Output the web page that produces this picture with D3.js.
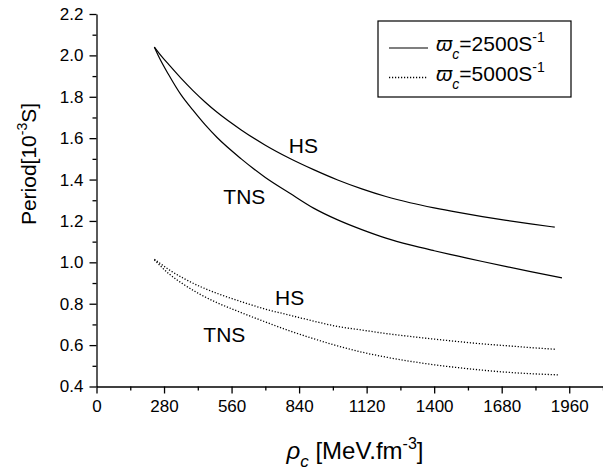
<!DOCTYPE html>
<html>
<head>
<meta charset="utf-8">
<script src="https://cdn.jsdelivr.net/npm/d3@7"></script>
<style>
  body { margin: 0; background: #fff; }
  svg text { font-family: "Liberation Sans", Arial, Helvetica, sans-serif; fill: #000; }
</style>
</head>
<body>
<svg id="chart" width="603" height="471"></svg>
<script>
// Central density rho_c [MeV fm^-3] and period [10^-3 s]
// omega_c = 2500 s^-1 (solid lines)
const hs2500Rho    = [240, 270, 300, 350, 400, 450, 500, 600, 700, 800, 900, 1000, 1100, 1200, 1300, 1400, 1500, 1600, 1700, 1800, 1900];
const hs2500Period = [2.04, 1.995, 1.955, 1.89, 1.83, 1.775, 1.725, 1.64, 1.566, 1.503, 1.448, 1.398, 1.355, 1.318, 1.288, 1.263, 1.241, 1.221, 1.203, 1.186, 1.17];
const tns2500Rho    = [240, 260, 300, 350, 400, 450, 500, 600, 700, 800, 900, 1000, 1100, 1200, 1300, 1400, 1500, 1600, 1700, 1800, 1930];
const tns2500Period = [2.04, 1.99, 1.905, 1.81, 1.735, 1.665, 1.603, 1.50, 1.41, 1.335, 1.262, 1.205, 1.158, 1.117, 1.084, 1.056, 1.030, 1.004, 0.979, 0.955, 0.925];

// omega_c = 5000 s^-1 (dotted lines)
const hs5000Rho    = [240, 300, 362, 430, 500, 600, 700, 800, 900, 1000, 1100, 1200, 1300, 1400, 1500, 1600, 1700, 1800, 1900];
const hs5000Period = [1.015, 0.965, 0.922, 0.883, 0.85, 0.81, 0.774, 0.745, 0.716, 0.69, 0.673, 0.656, 0.642, 0.629, 0.617, 0.606, 0.597, 0.588, 0.58];
const tns5000Rho    = [240, 300, 362, 430, 500, 600, 700, 800, 900, 1000, 1100, 1200, 1300, 1400, 1500, 1600, 1700, 1800, 1920];
const tns5000Period = [1.012, 0.945, 0.893, 0.845, 0.805, 0.757, 0.712, 0.669, 0.631, 0.596, 0.566, 0.542, 0.522, 0.505, 0.491, 0.479, 0.469, 0.462, 0.456];

// Axis ticks
const xMajorTicks = [0, 280, 560, 840, 1120, 1400, 1680, 1960];
const xMinorTicks = [140, 420, 700, 980, 1260, 1540, 1820, 2100];
const yMajorTicks = [0.4, 0.6, 0.8, 1.0, 1.2, 1.4, 1.6, 1.8, 2.0, 2.2];
const yMinorTicks = [0.5, 0.7, 0.9, 1.1, 1.3, 1.5, 1.7, 1.9, 2.1];

const svg = d3.select("#chart");

const x = d3.scaleLinear().domain([0, 2100]).range([96.5, 603]);
const y = d3.scaleLinear().domain([0.4, 2.2]).range([386.5, 14]);

// ---- axes ----
function styleAxis(g) {
  g.attr("font-family", null).attr("font-size", null);
  g.selectAll("path, line").attr("stroke", "#000").attr("stroke-width", 1.3);
  g.selectAll("text").attr("font-size", 17).attr("fill", "#000");
}

svg.append("g")
  .attr("transform", `translate(0,${y(0.4)})`)
  .call(d3.axisBottom(x).tickValues(xMinorTicks).tickSize(4).tickSizeOuter(0).tickFormat(""))
  .call(g => g.select(".domain").remove())
  .call(styleAxis);

svg.append("g")
  .attr("transform", `translate(0,${y(0.4)})`)
  .call(d3.axisBottom(x).tickValues(xMajorTicks).tickSize(7).tickSizeOuter(0).tickPadding(6).tickFormat(d3.format("d")))
  .call(styleAxis);

svg.append("g")
  .attr("transform", `translate(${x(0)},0)`)
  .call(d3.axisLeft(y).tickValues(yMinorTicks).tickSize(4).tickSizeOuter(0).tickFormat(""))
  .call(g => g.select(".domain").remove())
  .call(styleAxis);

svg.append("g")
  .attr("transform", `translate(${x(0)},0)`)
  .call(d3.axisLeft(y).tickValues(yMajorTicks).tickSize(7).tickSizeOuter(0).tickPadding(6).tickFormat(d3.format(".1f")))
  .call(styleAxis);

// ---- curves ----
const line = d3.line()
  .x(d => x(d[0]))
  .y(d => y(d[1]))
  .curve(d3.curveMonotoneX);

const series = [
  { rho: hs2500Rho,  period: hs2500Period,  dash: null },
  { rho: tns2500Rho, period: tns2500Period, dash: null },
  { rho: hs5000Rho,  period: hs5000Period,  dash: "1.2,1.8" },
  { rho: tns5000Rho, period: tns5000Period, dash: "1.2,1.8" }
];

series.forEach(s => {
  svg.append("path")
    .datum(d3.zip(s.rho, s.period))
    .attr("d", line)
    .attr("fill", "none")
    .attr("stroke", "#000")
    .attr("stroke-width", s.dash ? 1.3 : 1.2)
    .attr("stroke-dasharray", s.dash);
});

// ---- curve labels ----
const curveLabels = [
  { text: "HS",  rho: 797, period: 1.528 },
  { text: "TNS", rho: 526, period: 1.280 },
  { text: "HS",  rho: 740, period: 0.794 },
  { text: "TNS", rho: 443, period: 0.6165 }
];
curveLabels.forEach(l => {
  svg.append("text")
    .attr("x", x(l.rho))
    .attr("y", y(l.period))
    .attr("font-size", 21)
    .text(l.text);
});

// ---- axis titles ----
const yTitle = svg.append("text")
  .attr("transform", "translate(36,164) rotate(-90)")
  .attr("text-anchor", "middle")
  .attr("font-size", 21);
yTitle.append("tspan").text("Period[10");
yTitle.append("tspan").attr("font-size", 14).attr("dy", -9).text("-3");
yTitle.append("tspan").attr("dy", 9).text("S]");

const xTitle = svg.append("text")
  .attr("x", 355)
  .attr("y", 459)
  .attr("text-anchor", "middle")
  .attr("font-size", 24);
xTitle.append("tspan").attr("font-style", "italic").text("ρ");
xTitle.append("tspan").attr("font-style", "italic").attr("font-size", 17).attr("dy", 8).text("c");
xTitle.append("tspan").attr("dy", -8).text(" [MeV.fm");
xTitle.append("tspan").attr("font-size", 16).attr("dy", -10).text("-3");
xTitle.append("tspan").attr("dy", 10).text("]");

// ---- legend ----
const legendItems = [
  { label: "2500", dash: null },
  { label: "5000", dash: "1.2,1.8" }
];
const legend = svg.append("g");
legend.append("rect")
  .attr("x", 378).attr("y", 21)
  .attr("width", 193).attr("height", 76)
  .attr("fill", "#fff").attr("stroke", "#000").attr("stroke-width", 1.2);

legendItems.forEach((item, i) => {
  const cy = 48 + i * 29.5;
  legend.append("line")
    .attr("x1", 389).attr("x2", 428)
    .attr("y1", cy).attr("y2", cy)
    .attr("stroke", "#000")
    .attr("stroke-width", item.dash ? 1.3 : 1.2)
    .attr("stroke-dasharray", item.dash);
  const t = legend.append("text")
    .attr("x", 436)
    .attr("y", cy + 3)
    .attr("font-size", 21);
  t.append("tspan").attr("font-style", "italic").text("ϖ");
  t.append("tspan").attr("font-style", "italic").attr("font-size", 14).attr("dy", 8).text("c");
  t.append("tspan").attr("dy", -8).text("=" + item.label + "S");
  t.append("tspan").attr("font-size", 14).attr("dy", -9).text("-1");
});
</script>
</body>
</html>
